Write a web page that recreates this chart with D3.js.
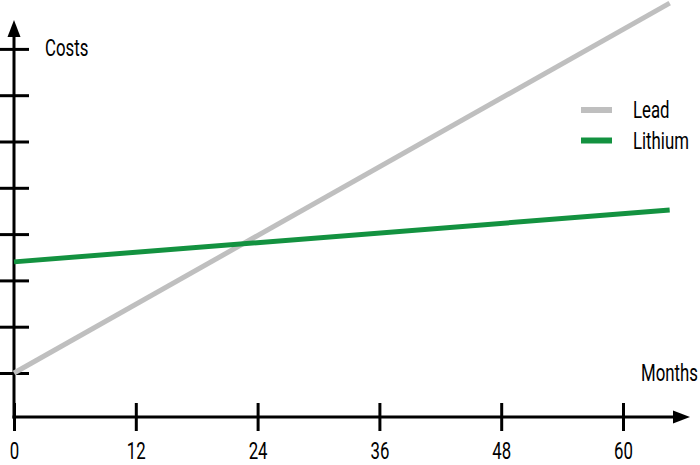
<!DOCTYPE html>
<html lang="en">
<head>
    <meta charset="UTF-8">
    <title>Costs over months</title>
    <script src="https://cdn.jsdelivr.net/npm/d3@7"></script>
    <style>
        body { margin: 0; background: #fff; }
        text { font-family: Roboto, "Noto Sans", sans-serif; font-size: 23px; fill: #000; }
    </style>
</head>
<body>
<script>
    // data
    const monthTicks = [0, 12, 24, 36, 48, 60]
    const costTicks = [1, 2, 3, 4, 5, 6, 7, 8]
    const seriesNames = ['Lead', 'Lithium']
    const leadMonths = [0, 64.6]
    const leadCosts = [1.0, 8.99]
    const lithiumMonths = [0, 64.6]
    const lithiumCosts = [3.4, 4.52]

    const [width, height] = [700, 465]
    const colors = {Lead: '#bfbfbf', Lithium: '#139240'}
    const axisX = 14, axisY = 417, squeeze = 0.73

    const svg = d3.select('body').append('svg').attr('width', width).attr('height', height)

    const x = d3.scaleLinear().domain([0, 60]).range([axisX, 623])
    const y = d3.scaleLinear().domain([0, 8]).range([419.3, 48.9])

    // x axis ticks + labels
    const xAxis = d3.axisBottom(x).tickValues(monthTicks).tickSize(14).tickFormat(d3.format('d'))
    const gx = svg.append('g').attr('transform', `translate(0, ${axisY})`).call(xAxis)
    gx.select('.domain').remove()
    gx.selectAll('.tick line').attr('y1', -14).attr('stroke', '#000').attr('stroke-width', 3)
    gx.selectAll('.tick text').attr('y', 42).attr('dy', 0)
        .attr('transform', `scale(${squeeze},1)`)
        .style('font-size', '23px').style('font-family', 'Roboto, sans-serif').attr('fill', '#000')

    // y axis ticks
    const yAxis = d3.axisLeft(y).tickValues(costTicks).tickSize(14).tickFormat('')
    const gy = svg.append('g').attr('transform', `translate(${axisX}, 0)`).call(yAxis)
    gy.select('.domain').remove()
    gy.selectAll('.tick line').attr('x1', 15).attr('stroke', '#000').attr('stroke-width', 3)

    // axis lines with arrows
    svg.append('line').attr('x1', axisX).attr('y1', axisY + 1.5).attr('x2', axisX).attr('y2', 36)
        .attr('stroke', '#000').attr('stroke-width', 3)
    svg.append('line').attr('x1', axisX - 1.5).attr('y1', axisY).attr('x2', 674).attr('y2', axisY)
        .attr('stroke', '#000').attr('stroke-width', 3)
    svg.append('path').attr('d', `M${axisX},20 L${axisX + 6.5},37 L${axisX - 6.5},37 Z`).attr('fill', '#000')
    svg.append('path').attr('d', `M690,${axisY} L673,${axisY - 6.5} L673,${axisY + 6.5} Z`).attr('fill', '#000')

    // lines
    const line = d3.line().x(d => x(d[0])).y(d => y(d[1]))
    const series = [
        {name: 'Lead', data: d3.zip(leadMonths, leadCosts)},
        {name: 'Lithium', data: d3.zip(lithiumMonths, lithiumCosts)}
    ]
    svg.selectAll('path.series').data(series).enter().append('path').classed('series', true)
        .attr('d', d => line(d.data))
        .attr('fill', 'none')
        .attr('stroke', d => colors[d.name])
        .attr('stroke-width', 5)

    // axis titles
    svg.append('text').attr('transform', `translate(45, 56) scale(${squeeze},1)`).text('Costs')
    svg.append('text').attr('transform', `translate(641, 381) scale(${squeeze},1)`).text('Months')

    // legend
    const legend = svg.selectAll('g.legend').data(seriesNames).enter().append('g').classed('legend', true)
        .attr('transform', (d, i) => `translate(581, ${110 + i * 30.5})`)
    legend.append('line').attr('x1', 0).attr('x2', 31).attr('y1', 0).attr('y2', 0)
        .attr('stroke', d => colors[d]).attr('stroke-width', 6)
    legend.append('text').attr('transform', `translate(52, 8) scale(${squeeze},1)`).text(d => d)
</script>
</body>
</html>
